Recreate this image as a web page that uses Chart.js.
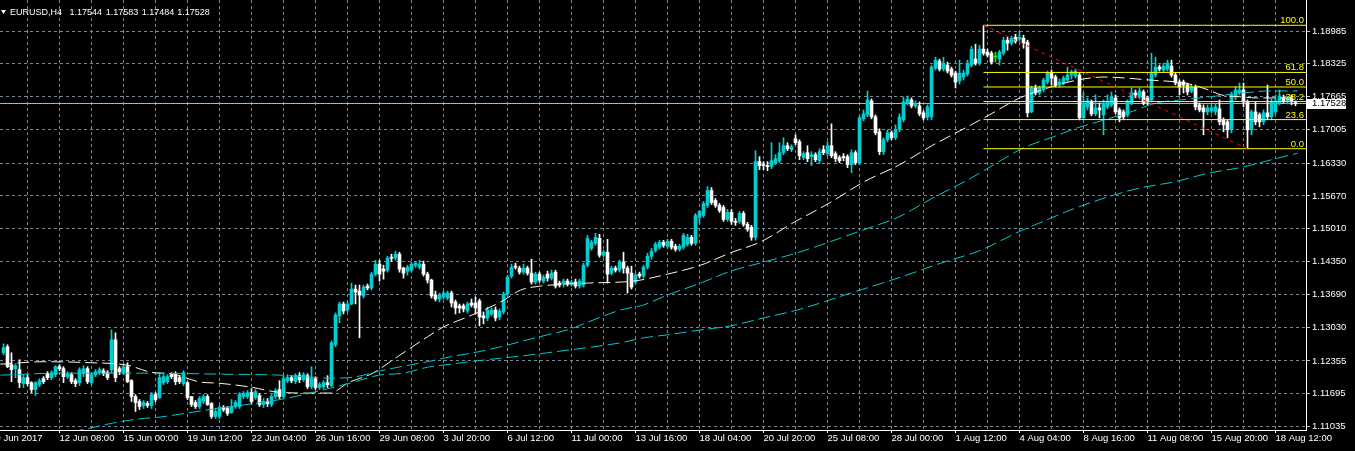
<!DOCTYPE html>
<html>
<head>
<meta charset="utf-8">
<title>EURUSD,H4</title>
<script src="https://cdn.jsdelivr.net/npm/chart.js@4.4.1/dist/chart.umd.min.js"></script>
<style>
  html, body { margin: 0; padding: 0; background: #000; }
  #chart { display: block; }
</style>
</head>
<body>
<canvas id="chart" width="1355" height="451"></canvas>
<script>
const symbol = 'EURUSD,H4';
const lastQuote = ['1.17544', '1.17583', '1.17484', '1.17528'];

// H4 candles, left to right
const open = [
  1.1252,1.1264,1.1228,1.1220,1.1218,1.1190,1.1202,1.1192,1.1178,1.1188,
  1.1200,1.1210,1.1202,1.1208,1.1224,1.1220,1.1204,1.1208,1.1196,1.1192,
  1.1210,1.1220,1.1192,1.1208,1.1212,1.1216,1.1212,1.1218,1.1278,1.1220,
  1.1212,1.1224,1.1196,1.1164,1.1154,1.1146,1.1150,1.1146,1.1168,1.1162,
  1.1192,1.1194,1.1208,1.1208,1.1202,1.1190,1.1192,1.1164,1.1152,1.1144,
  1.1154,1.1164,1.1150,1.1124,1.1124,1.1142,1.1140,1.1132,1.1144,1.1144,
  1.1164,1.1164,1.1172,1.1162,1.1166,1.1148,1.1154,1.1148,1.1164,1.1178,
  1.1164,1.1196,1.1202,1.1194,1.1206,1.1198,1.1206,1.1184,1.1200,1.1182,
  1.1184,1.1192,1.1186,1.1268,1.1326,1.1350,1.1338,1.1350,1.1380,1.1376,
  1.1366,1.1386,1.1382,1.1410,1.1430,1.1420,1.1418,1.1444,1.1442,1.1450,
  1.1422,1.1416,1.1418,1.1428,1.1424,1.1430,1.1410,1.1398,1.1368,1.1360,
  1.1364,1.1362,1.1372,1.1354,1.1346,1.1346,1.1336,1.1352,1.1352,1.1356,
  1.1326,1.1322,1.1330,1.1338,1.1324,1.1334,1.1370,1.1406,1.1426,1.1422,
  1.1414,1.1422,1.1412,1.1394,1.1410,1.1396,1.1410,1.1402,1.1414,1.1392,
  1.1390,1.1396,1.1390,1.1394,1.1386,1.1388,1.1428,1.1462,1.1472,1.1482,
  1.1448,1.1454,1.1412,1.1422,1.1418,1.1434,1.1422,1.1412,1.1394,1.1410,
  1.1406,1.1424,1.1446,1.1458,1.1464,1.1474,1.1466,1.1476,1.1466,1.1460,
  1.1464,1.1470,1.1484,1.1472,1.1524,1.1528,1.1548,1.1578,1.1558,1.1548,
  1.1544,1.1520,1.1534,1.1516,1.1516,1.1532,1.1510,1.1504,1.1484,1.1636,
  1.1630,1.1628,1.1626,1.1634,1.1638,1.1654,1.1668,1.1660,1.1682,1.1676,
  1.1644,1.1654,1.1646,1.1650,1.1638,1.1660,1.1652,1.1668,1.1652,1.1644,
  1.1646,1.1646,1.1630,1.1654,1.1634,1.1722,1.1730,1.1758,1.1726,1.1696,
  1.1656,1.1680,1.1694,1.1684,1.1700,1.1720,1.1754,1.1760,1.1748,1.1748,
  1.1734,1.1726,1.1726,1.1824,1.1838,1.1822,1.1830,1.1822,1.1814,1.1798,
  1.1806,1.1812,1.1830,1.1842,1.1834,1.1862,1.1856,1.1854,1.1846,1.1842,
  1.1854,1.1880,1.1874,1.1886,1.1882,1.1884,1.1876,1.1736,1.1784,1.1774,
  1.1780,1.1796,1.1814,1.1806,1.1790,1.1794,1.1800,1.1810,1.1808,1.1810,
  1.1724,1.1746,1.1756,1.1732,1.1744,1.1730,1.1746,1.1750,1.1764,1.1740,
  1.1736,1.1730,1.1754,1.1774,1.1766,1.1776,1.1764,1.1760,1.1810,1.1826,
  1.1820,1.1822,1.1828,1.1810,1.1796,1.1796,1.1790,1.1778,1.1786,1.1750,
  1.1744,1.1736,1.1738,1.1736,1.1742,1.1720,1.1716,1.1700,1.1766,1.1774,
  1.1780,1.1756,1.1700,1.1736,1.1730,1.1716,1.1734,1.1726,1.1736,1.1754,
  1.1764,1.1758,1.1764,1.17544
];
const high = [
  1.1270,1.1268,1.1252,1.1230,1.1238,1.1208,1.1208,1.1194,1.1194,1.1200,
  1.1204,1.1214,1.1216,1.1226,1.1228,1.1224,1.1214,1.1212,1.1200,1.1222,
  1.1226,1.1224,1.1212,1.1218,1.1222,1.1220,1.1216,1.1298,1.1292,1.1224,
  1.1230,1.1232,1.1198,1.1168,1.1158,1.1156,1.1154,1.1172,1.1172,1.1212,
  1.1208,1.1208,1.1212,1.1214,1.1206,1.1216,1.1194,1.1164,1.1156,1.1164,
  1.1168,1.1168,1.1152,1.1138,1.1146,1.1146,1.1144,1.1158,1.1156,1.1172,
  1.1174,1.1176,1.1180,1.1178,1.1170,1.1160,1.1160,1.1168,1.1180,1.1196,
  1.1206,1.1208,1.1206,1.1210,1.1212,1.1212,1.1210,1.1224,1.1204,1.1192,
  1.1196,1.1206,1.1276,1.1332,1.1354,1.1354,1.1354,1.1392,1.1388,1.1388,
  1.1388,1.1390,1.1414,1.1438,1.1438,1.1428,1.1446,1.1450,1.1456,1.1454,
  1.1424,1.1428,1.1434,1.1436,1.1438,1.1436,1.1414,1.1400,1.1376,1.1372,
  1.1376,1.1376,1.1376,1.1358,1.1350,1.1350,1.1354,1.1360,1.1364,1.1360,
  1.1334,1.1344,1.1342,1.1344,1.1340,1.1374,1.1408,1.1430,1.1432,1.1426,
  1.1430,1.1426,1.1440,1.1414,1.1414,1.1408,1.1416,1.1418,1.1418,1.1396,
  1.1400,1.1400,1.1398,1.1400,1.1400,1.1432,1.1488,1.1478,1.1492,1.1490,
  1.1458,1.1480,1.1426,1.1426,1.1438,1.1454,1.1426,1.1426,1.1412,1.1414,
  1.1428,1.1452,1.1462,1.1474,1.1478,1.1478,1.1480,1.1480,1.1470,1.1470,
  1.1492,1.1490,1.1488,1.1532,1.1538,1.1556,1.1586,1.1584,1.1562,1.1552,
  1.1548,1.1540,1.1540,1.1522,1.1536,1.1536,1.1514,1.1508,1.1658,1.1646,
  1.1636,1.1636,1.1674,1.1650,1.1674,1.1684,1.1674,1.1670,1.1690,1.1680,
  1.1656,1.1668,1.1656,1.1654,1.1662,1.1668,1.1676,1.1712,1.1656,1.1648,
  1.1652,1.1650,1.1660,1.1658,1.1728,1.1740,1.1778,1.1762,1.1730,1.1702,
  1.1684,1.1700,1.1698,1.1710,1.1732,1.1766,1.1768,1.1764,1.1758,1.1756,
  1.1738,1.1750,1.1830,1.1846,1.1842,1.1846,1.1836,1.1826,1.1818,1.1840,
  1.1820,1.1840,1.1868,1.1872,1.1870,1.1910,1.1862,1.1858,1.1856,1.1860,
  1.1886,1.1886,1.1888,1.1892,1.1898,1.1890,1.1880,1.1788,1.1790,1.1788,
  1.1804,1.1818,1.1820,1.1810,1.1802,1.1808,1.1826,1.1820,1.1822,1.1814,
  1.1774,1.1764,1.1760,1.1770,1.1754,1.1760,1.1770,1.1776,1.1770,1.1744,
  1.1740,1.1760,1.1784,1.1780,1.1784,1.1780,1.1768,1.1854,1.1846,1.1830,
  1.1834,1.1840,1.1840,1.1814,1.1800,1.1800,1.1794,1.1790,1.1790,1.1754,
  1.1750,1.1750,1.1750,1.1752,1.1760,1.1724,1.1720,1.1776,1.1786,1.1794,
  1.1794,1.1760,1.1740,1.1756,1.1734,1.1740,1.1790,1.1762,1.1770,1.1780,
  1.1770,1.1766,1.1770,1.17583
];
const low = [
  1.1248,1.1222,1.1194,1.1202,1.1182,1.1182,1.1186,1.1172,1.1166,1.1184,
  1.1190,1.1198,1.1198,1.1204,1.1216,1.1192,1.1200,1.1190,1.1184,1.1186,
  1.1204,1.1190,1.1188,1.1204,1.1208,1.1206,1.1198,1.1212,1.1194,1.1208,
  1.1208,1.1192,1.1154,1.1134,1.1138,1.1140,1.1142,1.1140,1.1154,1.1160,
  1.1188,1.1190,1.1200,1.1188,1.1190,1.1186,1.1158,1.1144,1.1140,1.1140,
  1.1150,1.1146,1.1120,1.1120,1.1120,1.1134,1.1126,1.1130,1.1140,1.1140,
  1.1160,1.1160,1.1150,1.1158,1.1144,1.1142,1.1144,1.1144,1.1160,1.1160,
  1.1160,1.1192,1.1192,1.1190,1.1192,1.1194,1.1180,1.1180,1.1178,1.1178,
  1.1180,1.1182,1.1184,1.1264,1.1312,1.1330,1.1334,1.1348,1.1350,1.1282,
  1.1362,1.1378,1.1378,1.1406,1.1396,1.1400,1.1414,1.1436,1.1438,1.1414,
  1.1402,1.1408,1.1414,1.1424,1.1420,1.1406,1.1392,1.1362,1.1356,1.1354,
  1.1360,1.1358,1.1344,1.1330,1.1332,1.1334,1.1332,1.1344,1.1330,1.1306,
  1.1310,1.1316,1.1326,1.1316,1.1318,1.1330,1.1366,1.1402,1.1420,1.1410,
  1.1410,1.1408,1.1390,1.1390,1.1394,1.1392,1.1396,1.1398,1.1382,1.1384,
  1.1384,1.1386,1.1386,1.1382,1.1382,1.1384,1.1424,1.1458,1.1468,1.1444,
  1.1444,1.1392,1.1408,1.1414,1.1414,1.1412,1.1372,1.1380,1.1390,1.1402,
  1.1402,1.1420,1.1440,1.1454,1.1460,1.1464,1.1462,1.1460,1.1456,1.1456,
  1.1460,1.1466,1.1468,1.1468,1.1512,1.1524,1.1544,1.1550,1.1544,1.1534,
  1.1516,1.1516,1.1510,1.1508,1.1512,1.1506,1.1496,1.1478,1.1478,1.1620,
  1.1620,1.1618,1.1622,1.1630,1.1634,1.1650,1.1658,1.1656,1.1670,1.1640,
  1.1640,1.1636,1.1628,1.1636,1.1632,1.1650,1.1648,1.1644,1.1636,1.1634,
  1.1638,1.1624,1.1614,1.1630,1.1630,1.1718,1.1726,1.1722,1.1690,1.1650,
  1.1650,1.1676,1.1680,1.1680,1.1696,1.1716,1.1750,1.1744,1.1744,1.1728,
  1.1720,1.1720,1.1720,1.1820,1.1818,1.1818,1.1814,1.1806,1.1784,1.1792,
  1.1800,1.1808,1.1826,1.1830,1.1830,1.1850,1.1846,1.1832,1.1836,1.1830,
  1.1850,1.1860,1.1870,1.1874,1.1878,1.1864,1.1726,1.1734,1.1770,1.1770,
  1.1776,1.1792,1.1790,1.1786,1.1786,1.1790,1.1796,1.1802,1.1804,1.1720,
  1.1720,1.1740,1.1728,1.1728,1.1724,1.1690,1.1742,1.1746,1.1732,1.1716,
  1.1720,1.1726,1.1750,1.1764,1.1762,1.1750,1.1750,1.1756,1.1806,1.1818,
  1.1816,1.1818,1.1806,1.1790,1.1770,1.1774,1.1770,1.1774,1.1740,1.1736,
  1.1690,1.1730,1.1734,1.1730,1.1710,1.1696,1.1684,1.1694,1.1760,1.1770,
  1.1746,1.1662,1.1690,1.1710,1.1706,1.1710,1.1720,1.1720,1.1732,1.1750,
  1.1754,1.1752,1.1750,1.17484
];
const close = [
  1.1262,1.1224,1.1218,1.1226,1.1192,1.1202,1.1190,1.1178,1.1192,1.1196,
  1.1194,1.1202,1.1212,1.1224,1.1220,1.1204,1.1210,1.1194,1.1190,1.1218,
  1.1220,1.1194,1.1208,1.1214,1.1218,1.1210,1.1202,1.1278,1.1202,1.1214,
  1.1224,1.1194,1.1164,1.1152,1.1144,1.1152,1.1146,1.1168,1.1158,1.1202,
  1.1204,1.1204,1.1204,1.1194,1.1194,1.1212,1.1162,1.1148,1.1144,1.1160,
  1.1164,1.1148,1.1124,1.1134,1.1142,1.1138,1.1130,1.1144,1.1152,1.1168,
  1.1170,1.1172,1.1154,1.1174,1.1148,1.1154,1.1150,1.1164,1.1176,1.1164,
  1.1200,1.1202,1.1196,1.1206,1.1198,1.1208,1.1184,1.1200,1.1182,1.1188,
  1.1192,1.1188,1.1272,1.1328,1.1350,1.1336,1.1350,1.1380,1.1374,1.1368,
  1.1384,1.1382,1.1410,1.1430,1.1410,1.1416,1.1442,1.1442,1.1450,1.1420,
  1.1412,1.1424,1.1430,1.1432,1.1430,1.1410,1.1398,1.1366,1.1360,1.1368,
  1.1372,1.1372,1.1352,1.1342,1.1342,1.1340,1.1350,1.1348,1.1342,1.1324,
  1.1322,1.1338,1.1338,1.1322,1.1336,1.1370,1.1404,1.1424,1.1424,1.1414,
  1.1422,1.1412,1.1394,1.1410,1.1398,1.1404,1.1402,1.1412,1.1386,1.1388,
  1.1396,1.1390,1.1394,1.1386,1.1396,1.1428,1.1482,1.1474,1.1484,1.1448,
  1.1454,1.1410,1.1422,1.1418,1.1434,1.1422,1.1412,1.1384,1.1408,1.1406,
  1.1424,1.1446,1.1456,1.1470,1.1474,1.1468,1.1476,1.1464,1.1460,1.1466,
  1.1488,1.1484,1.1472,1.1528,1.1536,1.1552,1.1578,1.1554,1.1548,1.1538,
  1.1520,1.1534,1.1516,1.1514,1.1532,1.1510,1.1500,1.1484,1.1636,1.1628,
  1.1628,1.1626,1.1638,1.1642,1.1654,1.1668,1.1662,1.1666,1.1674,1.1648,
  1.1652,1.1642,1.1650,1.1640,1.1656,1.1654,1.1668,1.1648,1.1642,1.1638,
  1.1644,1.1630,1.1654,1.1634,1.1724,1.1732,1.1760,1.1726,1.1694,1.1656,
  1.1680,1.1694,1.1684,1.1700,1.1726,1.1756,1.1762,1.1748,1.1752,1.1732,
  1.1724,1.1746,1.1826,1.1840,1.1822,1.1834,1.1818,1.1810,1.1796,1.1814,
  1.1814,1.1834,1.1862,1.1834,1.1862,1.1854,1.1850,1.1836,1.1846,1.1856,
  1.1880,1.1874,1.1884,1.1878,1.1886,1.1874,1.1734,1.1784,1.1774,1.1784,
  1.1800,1.1814,1.1804,1.1790,1.1796,1.1804,1.1810,1.1816,1.1818,1.1724,
  1.1754,1.1758,1.1732,1.1744,1.1740,1.1754,1.1756,1.1766,1.1736,1.1724,
  1.1726,1.1756,1.1774,1.1770,1.1778,1.1754,1.1756,1.1814,1.1826,1.1822,
  1.1828,1.1834,1.1810,1.1794,1.1786,1.1790,1.1776,1.1786,1.1746,1.1740,
  1.1736,1.1744,1.1744,1.1746,1.1716,1.1710,1.1700,1.1770,1.1780,1.1780,
  1.1756,1.1700,1.1736,1.1716,1.1716,1.1734,1.1726,1.1756,1.1758,1.1768,
  1.1758,1.1762,1.1758,1.17528
];

// time axis captions, one every 16 bars starting two bars left of the first candle
const timeLabels = [
  '9 Jun 2017', '12 Jun 08:00', '15 Jun 00:00', '19 Jun 12:00', '22 Jun 04:00',
  '26 Jun 16:00', '29 Jun 08:00', '3 Jul 20:00', '6 Jul 12:00', '11 Jul 00:00',
  '13 Jul 16:00', '18 Jul 04:00', '20 Jul 20:00', '25 Jul 08:00', '28 Jul 00:00',
  '1 Aug 12:00', '4 Aug 04:00', '8 Aug 16:00', '11 Aug 08:00', '15 Aug 20:00',
  '18 Aug 12:00'
];
const priceTicks = [1.18985, 1.18325, 1.17665, 1.17005, 1.16330, 1.15670, 1.15010,
  1.14350, 1.13690, 1.13030, 1.12355, 1.11695, 1.11035];

// moving averages, read at selected bars
const maFastBar = [-0.8, 10, 21.8, 31, 36.8, 42.5, 49.3, 53.5, 61.8, 68.5,
  76, 81.8, 86, 92.3, 98.5, 106, 110, 116, 124.3, 129.3,
  134.3, 146, 157.5, 166, 174.3, 181.8, 189.3, 197.8, 206.5, 215,
  223.8, 232.3, 241, 247.8, 253, 258, 268.5, 275.3, 280.5, 286.5,
  295.3, 301.3, 304.5, 309.8, 313.3, 323.5];
const maFast = [1.1229, 1.1234, 1.1232, 1.1227, 1.1213, 1.1209, 1.1193, 1.1191, 1.1183, 1.1173,
  1.1171, 1.1171, 1.1191, 1.1211, 1.1244, 1.1284, 1.1304, 1.1324, 1.1354, 1.1378,
  1.1386, 1.1392, 1.1396, 1.1410, 1.1428, 1.1453, 1.1475, 1.1515, 1.1553, 1.1595,
  1.1629, 1.1669, 1.1706, 1.1736, 1.1760, 1.1776, 1.1800, 1.1806, 1.1804, 1.1800,
  1.1794, 1.1780, 1.1770, 1.1766, 1.1764, 1.1764];

const maMidBar = [-0.8, 14.3, 36.8, 54.3, 69.3, 81.8, 87.5, 93.8, 100, 106,
  111.8, 117.5, 124.3, 131, 136, 141.8, 147.5, 154.3, 160, 166,
  174.3, 181.8, 190, 198.5, 202.3, 215, 223.8, 232.3, 241, 249.5,
  254.8, 262.5, 268.5, 275.3, 281.8, 288.3, 294.3, 301.3, 309.8, 316.8, 323.5];
const maMid = [1.1207, 1.1211, 1.1211, 1.1209, 1.1207, 1.1201, 1.1203, 1.1215, 1.1225, 1.1234,
  1.1244, 1.1252, 1.1264, 1.1278, 1.1288, 1.1300, 1.1318, 1.1338, 1.1348, 1.1368,
  1.1392, 1.1416, 1.1434, 1.1453, 1.1463, 1.1499, 1.1525, 1.1563, 1.1599, 1.1639,
  1.1663, 1.1686, 1.1704, 1.1720, 1.1736, 1.1754, 1.1760, 1.1766, 1.1774, 1.1778, 1.1778];

const maSlowBar = [17, 21.8, 27.5, 33.8, 39.3, 46, 52.5, 60, 69.8, 81.8,
  87.5, 93.8, 100, 106, 111.8, 117.5, 124.3, 131, 136, 141.8,
  147.5, 154.3, 160, 166, 174.3, 181.8, 190, 198.5, 211.8, 224.3,
  234.3, 244.3, 253.8, 260.8, 266.8, 275.3, 284, 292.5, 301.3, 309.8, 318.5, 323.5];
const maSlow = [1.1093, 1.1101, 1.1111, 1.1119, 1.1123, 1.1131, 1.1139, 1.1147, 1.1159, 1.1181,
  1.1193, 1.1207, 1.1211, 1.1223, 1.1229, 1.1235, 1.1241, 1.1247, 1.1252, 1.1258,
  1.1264, 1.1272, 1.1282, 1.1288, 1.1298, 1.1306, 1.1322, 1.1338, 1.1372, 1.1404,
  1.1432, 1.1458, 1.1495, 1.1519, 1.1539, 1.1563, 1.1583, 1.1595, 1.1613, 1.1625, 1.1643, 1.1653];

// fibonacci retracement from the 2 Aug high to the 17 Aug low
const fibHighBar = 245, fibLowBar = 311;
const fibHigh = 1.1910, fibLow = 1.1662;
const fibLevels = [100.0, 61.8, 50.0, 38.2, 23.6, 0.0];
const bid = 1.17528;

// ---- drawing ----
const FONT = '"Liberation Sans", Arial, sans-serif';
const UP = '#00ced1', DOWN = '#ffffff', DOJI = '#00ff00';
const GRID = '#778899';
const X_MIN = -0.875, X_MAX = 325.625;
const Y_MAX = 1.19608, Y_MIN = 1.10968;
const firstLabelBar = -2, barsPerLabel = 16;

const gridBars = [];
for (let b = firstLabelBar; b <= 318; b += barsPerLabel / 2) gridBars.push(b);

const bars = close.map((_, i) => i);
const candleColor = bars.map(i => close[i] > open[i] ? UP : (close[i] < open[i] ? DOWN : DOJI));
const fibPrice = lv => fibLow + (fibHigh - fibLow) * lv / 100;
const pts = (xs, ys) => xs.map((x, k) => ({ x: x, y: ys[k] }));

function maLine(xs, ys, color) {
  return {
    type: 'line', data: pts(xs, ys), borderColor: color, borderWidth: 1,
    borderDash: [12, 5], pointRadius: 0, cubicInterpolationMode: 'monotone', order: 4
  };
}
function flatLine(x0, y0, x1, y1, color, dash, order) {
  return {
    type: 'line', data: [{ x: x0, y: y0 }, { x: x1, y: y1 }], borderColor: color,
    borderWidth: 1, borderDash: dash, pointRadius: 0, order: order
  };
}

const datasets = [
  flatLine(X_MIN, bid, X_MAX, bid, '#b4b4b4', [], 8),
  {
    type: 'bar', data: bars.map(i => ({ x: i, y: [low[i], high[i]] })),
    backgroundColor: candleColor, barThickness: 1, grouped: false, minBarLength: 1, order: 7
  },
  {
    type: 'bar', data: bars.map(i => ({ x: i, y: [open[i], close[i]] })),
    backgroundColor: candleColor, barThickness: 3, grouped: false, minBarLength: 1, order: 6
  },
  maLine(maSlowBar, maSlow, '#00c8cc'),
  maLine(maMidBar, maMid, '#00c8cc'),
  maLine(maFastBar, maFast, '#fff8dc'),
  flatLine(fibHighBar, fibHigh, fibLowBar, fibLow, '#ff0000', [4, 4], 2)
];
fibLevels.forEach(lv => datasets.push(flatLine(fibHighBar, fibPrice(lv), X_MAX, fibPrice(lv), '#ffff00', [], 3)));

const overlay = {
  id: 'overlay',
  beforeDraw(chart) {
    const ctx = chart.ctx;
    ctx.save();
    ctx.fillStyle = '#000';
    ctx.fillRect(0, 0, chart.width, chart.height);
    ctx.restore();
  },
  afterDraw(chart) {
    const { ctx, chartArea, scales: { y } } = chart;
    ctx.save();
    ctx.font = '9.5px ' + FONT;

    // level captions
    ctx.fillStyle = '#ffff00';
    ctx.textAlign = 'right';
    ctx.textBaseline = 'alphabetic';
    fibLevels.forEach(lv => {
      ctx.fillText(lv.toFixed(1), chartArea.right - 2, y.getPixelForValue(fibPrice(lv)) - 2);
    });

    // bid price box
    const by = y.getPixelForValue(bid);
    ctx.fillStyle = '#ffffff';
    ctx.fillRect(chartArea.right + 1, Math.round(by) - 5, 39, 10);
    ctx.fillStyle = '#000000';
    ctx.textAlign = 'left';
    ctx.textBaseline = 'middle';
    ctx.fillText(bid.toFixed(5), chartArea.right + 6, by);

    // header
    ctx.fillStyle = '#ffffff';
    ctx.beginPath();
    ctx.moveTo(1, 10); ctx.lineTo(6, 10); ctx.lineTo(3.5, 14); ctx.closePath();
    ctx.fill();
    ctx.font = '9px ' + FONT;
    ctx.textBaseline = 'alphabetic';
    ctx.fillText(symbol, 10, 15);
    [69.5, 105.7, 141.7, 177.3].forEach((x, k) => ctx.fillText(lastQuote[k], x, 15));
    ctx.restore();
  }
};

new Chart(document.getElementById('chart'), {
  data: { datasets: datasets },
  plugins: [overlay],
  options: {
    responsive: false,
    animation: false,
    devicePixelRatio: 1,
    events: [],
    layout: { padding: 0, autoPadding: false },
    font: { family: FONT, size: 9.5 },
    plugins: { legend: { display: false }, tooltip: { enabled: false } },
    scales: {
      x: {
        type: 'linear', min: X_MIN, max: X_MAX, offset: false,
        afterBuildTicks: s => { s.ticks = gridBars.map(v => ({ value: v })); },
        afterFit: s => { s.height = 21; s.paddingLeft = 0; s.paddingRight = 0; },
        ticks: {
          autoSkip: false, maxRotation: 0, align: 'start', padding: 0, color: '#ffffff',
          font: { family: FONT, size: 9.5 },
          callback: v => ((v - firstLabelBar) % barsPerLabel === 0 ? timeLabels[(v - firstLabelBar) / barsPerLabel] : '')
        },
        grid: {
          offset: false, color: GRID, lineWidth: 1, tickLength: 3,
          tickColor: c => (c.tick && (c.tick.value - firstLabelBar) % barsPerLabel === 0 ? '#ffffff' : 'rgba(0,0,0,0)')
        },
        border: { display: true, color: '#ffffff', dash: [3, 3] }
      },
      y: {
        type: 'linear', position: 'right', min: Y_MIN, max: Y_MAX,
        afterBuildTicks: s => { s.ticks = priceTicks.map(v => ({ value: v })); },
        afterFit: s => { s.width = 49; s.paddingTop = 0; s.paddingBottom = 0; },
        ticks: {
          autoSkip: false, padding: 2, color: '#ffffff',
          font: { family: FONT, size: 9.5 },
          callback: v => v.toFixed(5)
        },
        grid: { color: GRID, lineWidth: 1, tickLength: 4, tickColor: '#c0c0c0' },
        border: { display: true, color: '#ffffff', dash: [3, 3] }
      }
    }
  }
});
</script>
</body>
</html>
